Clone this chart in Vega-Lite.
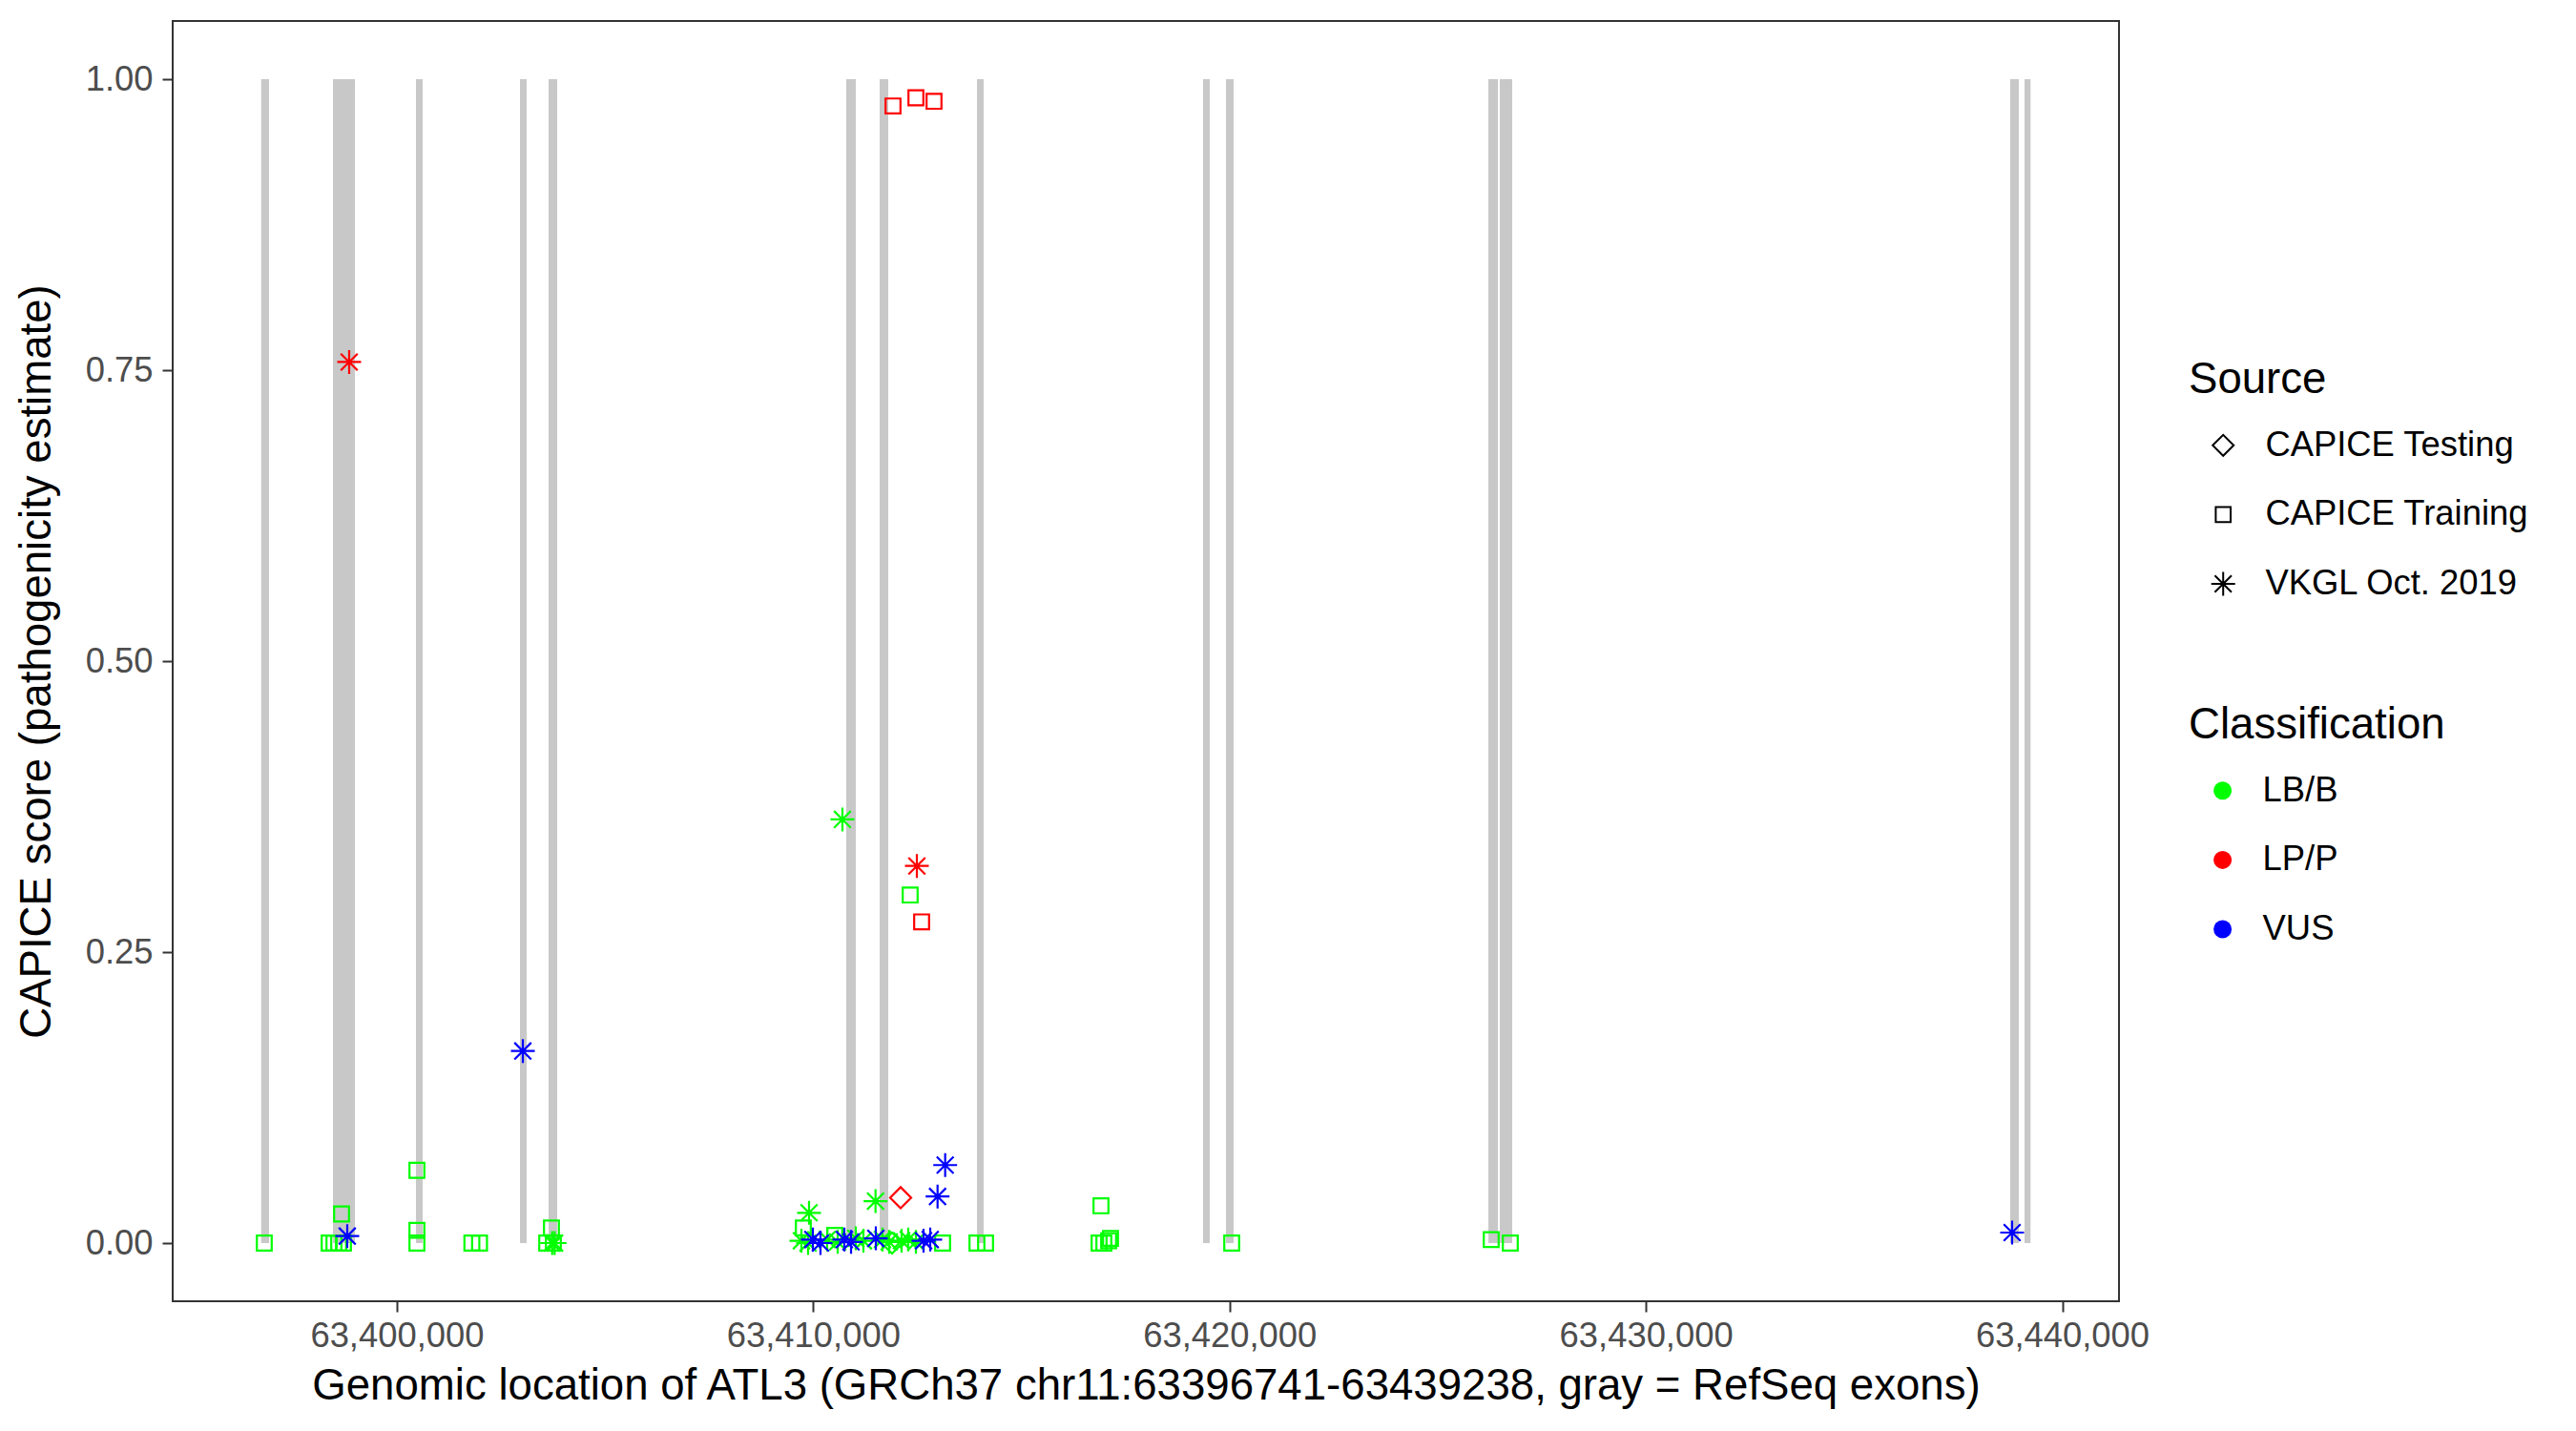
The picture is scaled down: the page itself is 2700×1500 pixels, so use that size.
{
  "$schema": "https://vega.github.io/schema/vega-lite/v6.json",
  "width": 2040,
  "height": 1342,
  "autosize": {"type": "none"},
  "padding": {"left": 181, "top": 22, "right": 479, "bottom": 136},
  "background": "white",
  "config": {
    "font": "Liberation Sans",
    "view": {"stroke": "#333333", "strokeWidth": 2},
    "axis": {
      "domain": false, "grid": false, "ticks": true,
      "tickColor": "#333333", "tickWidth": 2, "tickSize": 11,
      "labelFont": "Liberation Sans", "labelFontSize": 36.4, "labelColor": "#4D4D4D",
      "titleFont": "Liberation Sans", "titleFontSize": 45.6, "titleFontWeight": "normal", "titleColor": "#000000",
      "labelFlush": false, "labelOverlap": false, "labelBound": false, "labelLimit": 0, "titleLimit": 0
    },
    "legend": {
      "titleFont": "Liberation Sans", "titleFontSize": 45.6, "titleFontWeight": "normal", "titleColor": "#000000",
      "labelFont": "Liberation Sans", "labelFontSize": 36.4, "labelColor": "#000000",
      "labelLimit": 0, "titleLimit": 0,
      "symbolBaseStrokeColor": "#000000", "symbolBaseFillColor": "transparent"
    }
  },
  "datasets": {
    "exons": [
      {"start": 63396741, "end": 63396930},
      {"start": 63398466, "end": 63398993},
      {"start": 63400459, "end": 63400620},
      {"start": 63402957, "end": 63403117},
      {"start": 63403645, "end": 63403851},
      {"start": 63410794, "end": 63411023},
      {"start": 63411596, "end": 63411802},
      {"start": 63413933, "end": 63414094},
      {"start": 63419364, "end": 63419525},
      {"start": 63419914, "end": 63420097},
      {"start": 63426216, "end": 63426445},
      {"start": 63426491, "end": 63426789},
      {"start": 63438750, "end": 63438957},
      {"start": 63439094, "end": 63439238}
    ],
    "variants": [
      {"pos": 63396816, "score": 0, "source": "CAPICE Training", "class": "LB/B"},
      {"pos": 63398374, "score": 0, "source": "CAPICE Training", "class": "LB/B"},
      {"pos": 63398489, "score": 0, "source": "CAPICE Training", "class": "LB/B"},
      {"pos": 63398603, "score": 0, "source": "CAPICE Training", "class": "LB/B"},
      {"pos": 63398718, "score": 0, "source": "CAPICE Training", "class": "LB/B"},
      {"pos": 63398672, "score": 0.025, "source": "CAPICE Training", "class": "LB/B"},
      {"pos": 63400482, "score": 0.0625, "source": "CAPICE Training", "class": "LB/B"},
      {"pos": 63400482, "score": 0.011, "source": "CAPICE Training", "class": "LB/B"},
      {"pos": 63400482, "score": 0, "source": "CAPICE Training", "class": "LB/B"},
      {"pos": 63401802, "score": 0, "source": "CAPICE Training", "class": "LB/B"},
      {"pos": 63401986, "score": 0, "source": "CAPICE Training", "class": "LB/B"},
      {"pos": 63403713, "score": 0.013, "source": "CAPICE Training", "class": "LB/B"},
      {"pos": 63403599, "score": 0, "source": "CAPICE Training", "class": "LB/B"},
      {"pos": 63403759, "score": 0, "source": "CAPICE Training", "class": "LB/B"},
      {"pos": 63409763, "score": 0.013, "source": "CAPICE Training", "class": "LB/B"},
      {"pos": 63410519, "score": 0.0066, "source": "CAPICE Training", "class": "LB/B"},
      {"pos": 63413108, "score": 0, "source": "CAPICE Training", "class": "LB/B"},
      {"pos": 63413933, "score": 0, "source": "CAPICE Training", "class": "LB/B"},
      {"pos": 63414140, "score": 0, "source": "CAPICE Training", "class": "LB/B"},
      {"pos": 63416912, "score": 0.032, "source": "CAPICE Training", "class": "LB/B"},
      {"pos": 63416866, "score": 0, "source": "CAPICE Training", "class": "LB/B"},
      {"pos": 63416981, "score": 0, "source": "CAPICE Training", "class": "LB/B"},
      {"pos": 63417096, "score": 0.002, "source": "CAPICE Training", "class": "LB/B"},
      {"pos": 63417141, "score": 0.004, "source": "CAPICE Training", "class": "LB/B"},
      {"pos": 63420052, "score": 0, "source": "CAPICE Training", "class": "LB/B"},
      {"pos": 63426285, "score": 0.003, "source": "CAPICE Training", "class": "LB/B"},
      {"pos": 63426743, "score": 0, "source": "CAPICE Training", "class": "LB/B"},
      {"pos": 63412329, "score": 0.299, "source": "CAPICE Training", "class": "LB/B"},
      {"pos": 63411917, "score": 0.977, "source": "CAPICE Training", "class": "LP/P"},
      {"pos": 63412467, "score": 0.984, "source": "CAPICE Training", "class": "LP/P"},
      {"pos": 63412902, "score": 0.981, "source": "CAPICE Training", "class": "LP/P"},
      {"pos": 63412604, "score": 0.276, "source": "CAPICE Training", "class": "LP/P"},
      {"pos": 63411894, "score": 0, "source": "CAPICE Testing", "class": "LB/B"},
      {"pos": 63412100, "score": 0.039, "source": "CAPICE Testing", "class": "LP/P"},
      {"pos": 63403730, "score": 0, "source": "VKGL Oct. 2019", "class": "LB/B"},
      {"pos": 63403790, "score": 0, "source": "VKGL Oct. 2019", "class": "LB/B"},
      {"pos": 63410702, "score": 0.364, "source": "VKGL Oct. 2019", "class": "LB/B"},
      {"pos": 63409900, "score": 0.026, "source": "VKGL Oct. 2019", "class": "LB/B"},
      {"pos": 63411497, "score": 0.036, "source": "VKGL Oct. 2019", "class": "LB/B"},
      {"pos": 63409717, "score": 0.002, "source": "VKGL Oct. 2019", "class": "LB/B"},
      {"pos": 63409877, "score": 0.0, "source": "VKGL Oct. 2019", "class": "LB/B"},
      {"pos": 63410336, "score": 0.003, "source": "VKGL Oct. 2019", "class": "LB/B"},
      {"pos": 63410588, "score": 0.001, "source": "VKGL Oct. 2019", "class": "LB/B"},
      {"pos": 63411023, "score": 0.004, "source": "VKGL Oct. 2019", "class": "LB/B"},
      {"pos": 63411206, "score": 0.002, "source": "VKGL Oct. 2019", "class": "LB/B"},
      {"pos": 63411665, "score": 0.003, "source": "VKGL Oct. 2019", "class": "LB/B"},
      {"pos": 63411825, "score": 0.001, "source": "VKGL Oct. 2019", "class": "LB/B"},
      {"pos": 63412123, "score": 0.002, "source": "VKGL Oct. 2019", "class": "LB/B"},
      {"pos": 63412283, "score": 0.003, "source": "VKGL Oct. 2019", "class": "LB/B"},
      {"pos": 63412467, "score": 0.001, "source": "VKGL Oct. 2019", "class": "LB/B"},
      {"pos": 63398855, "score": 0.757, "source": "VKGL Oct. 2019", "class": "LP/P"},
      {"pos": 63412490, "score": 0.324, "source": "VKGL Oct. 2019", "class": "LP/P"},
      {"pos": 63398809, "score": 0.006, "source": "VKGL Oct. 2019", "class": "VUS"},
      {"pos": 63403026, "score": 0.165, "source": "VKGL Oct. 2019", "class": "VUS"},
      {"pos": 63412987, "score": 0.040, "source": "VKGL Oct. 2019", "class": "VUS"},
      {"pos": 63413170, "score": 0.067, "source": "VKGL Oct. 2019", "class": "VUS"},
      {"pos": 63438796, "score": 0.009, "source": "VKGL Oct. 2019", "class": "VUS"},
      {"pos": 63409992, "score": 0.003, "source": "VKGL Oct. 2019", "class": "VUS"},
      {"pos": 63410175, "score": 0.0, "source": "VKGL Oct. 2019", "class": "VUS"},
      {"pos": 63410748, "score": 0.003, "source": "VKGL Oct. 2019", "class": "VUS"},
      {"pos": 63410909, "score": 0.001, "source": "VKGL Oct. 2019", "class": "VUS"},
      {"pos": 63411504, "score": 0.004, "source": "VKGL Oct. 2019", "class": "VUS"},
      {"pos": 63412650, "score": 0.002, "source": "VKGL Oct. 2019", "class": "VUS"},
      {"pos": 63412811, "score": 0.003, "source": "VKGL Oct. 2019", "class": "VUS"}
    ]
  },
  "layer": [
    {
      "data": {"name": "exons"},
      "mark": {"type": "rect", "color": "#C8C8C8"},
      "encoding": {
        "x": {"field": "start", "type": "quantitative",
              "scale": {"domain": [63394616, 63441363], "nice": false, "zero": false},
              "axis": {"values": [63400000, 63410000, 63420000, 63430000, 63440000], "format": ",d", "labelPadding": 7, "titlePadding": 12},
              "title": "Genomic location of ATL3 (GRCh37 chr11:63396741-63439238, gray = RefSeq exons)"},
        "x2": {"field": "end"},
        "y": {"datum": 0, "type": "quantitative",
              "scale": {"domain": [-0.05, 1.05], "nice": false, "zero": false},
              "axis": {"values": [0, 0.25, 0.5, 0.75, 1], "format": ".2f", "labelPadding": 10, "titlePadding": 27},
              "title": "CAPICE score (pathogenicity estimate)"},
        "y2": {"datum": 1}
      }
    },
    {
      "data": {"name": "variants"},
      "transform": [{"filter": "false"}],
      "mark": {"type": "circle", "size": 361, "opacity": 1},
      "encoding": {
        "x": {"field": "pos", "type": "quantitative",
              "scale": {"domain": [63394616, 63441363], "nice": false, "zero": false},
              "axis": {"values": [63400000, 63410000, 63420000, 63430000, 63440000], "format": ",d", "labelPadding": 7, "titlePadding": 12},
              "title": "Genomic location of ATL3 (GRCh37 chr11:63396741-63439238, gray = RefSeq exons)"},
        "y": {"field": "score", "type": "quantitative",
              "scale": {"domain": [-0.05, 1.05], "nice": false, "zero": false},
              "axis": {"values": [0, 0.25, 0.5, 0.75, 1], "format": ".2f", "labelPadding": 10, "titlePadding": 27},
              "title": "CAPICE score (pathogenicity estimate)"},
        "color": {"field": "class", "type": "nominal",
                  "scale": {"domain": ["LB/B", "LP/P", "VUS"], "range": ["#00FF00", "#FF0000", "#0000FF"]},
                  "legend": {"title": "Classification", "orient": "none", "legendX": 2113, "legendY": 716,
                             "symbolType": "circle", "symbolSize": 361, "symbolStrokeWidth": 0, "symbolOpacity": 1,
                             "symbolOffset": 17.4, "labelOffset": 23.8, "titlePadding": 27, "rowPadding": 35.6}}
      }
    },
    {
      "data": {"name": "variants"},
      "mark": {"type": "point", "filled": false, "strokeWidth": 2.2, "opacity": 1, "size": 400},
      "encoding": {
        "x": {"field": "pos", "type": "quantitative",
              "scale": {"domain": [63394616, 63441363], "nice": false, "zero": false},
              "axis": {"values": [63400000, 63410000, 63420000, 63430000, 63440000], "format": ",d", "labelPadding": 7, "titlePadding": 12},
              "title": "Genomic location of ATL3 (GRCh37 chr11:63396741-63439238, gray = RefSeq exons)"},
        "y": {"field": "score", "type": "quantitative",
              "scale": {"domain": [-0.05, 1.05], "nice": false, "zero": false},
              "axis": {"values": [0, 0.25, 0.5, 0.75, 1], "format": ".2f", "labelPadding": 10, "titlePadding": 27},
              "title": "CAPICE score (pathogenicity estimate)"},
        "shape": {"field": "source", "type": "nominal",
                  "scale": {"domain": ["CAPICE Testing", "CAPICE Training", "VKGL Oct. 2019"],
                            "range": ["M-1.1,0L0,-1.1L1.1,0L0,1.1Z", "M-0.78,-0.78L0.78,-0.78L0.78,0.78L-0.78,0.78Z", "M-1.25,0L1.25,0M0,-1.25L0,1.25M-0.88,-0.88L0.88,0.88M-0.88,0.88L0.88,-0.88"]},
                  "legend": {"title": "Source", "orient": "none", "legendX": 2113, "legendY": 354,
                             "symbolSize": 400, "symbolStrokeWidth": 2, "symbolStrokeColor": "#000000", "symbolFillColor": "transparent",
                             "symbolOffset": 18, "labelOffset": 26, "titlePadding": 27, "rowPadding": 35.6}},
        "color": {"field": "class", "type": "nominal",
                  "scale": {"domain": ["LB/B", "LP/P", "VUS"], "range": ["#00FF00", "#FF0000", "#0000FF"]}}
      }
    }
  ]
}
